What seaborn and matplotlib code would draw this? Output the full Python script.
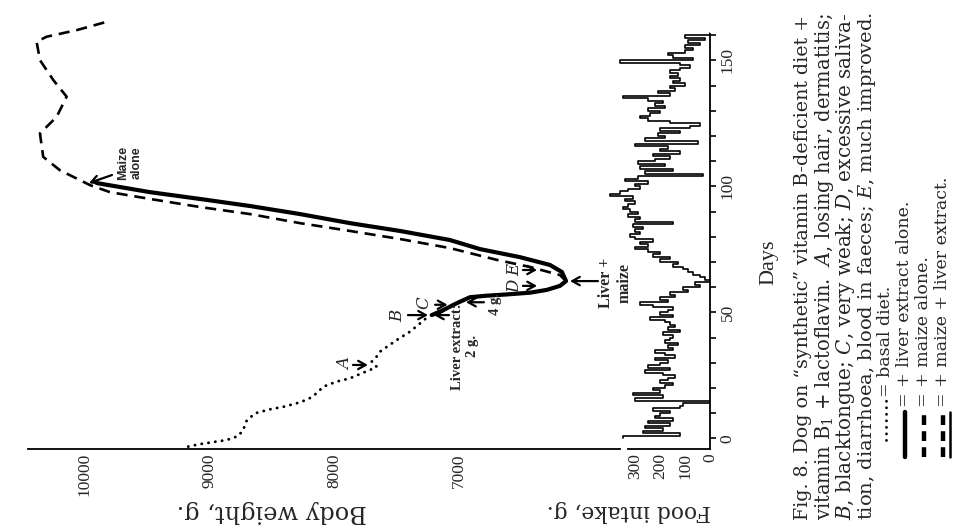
import matplotlib
matplotlib.use("Agg")
import matplotlib.pyplot as plt
import seaborn as sns
from matplotlib.lines import Line2D

# ---------------- data ----------------
basal_day = [-3.3, -2.3, -1.5, -0.7, 0.9, 3.3, 7.0, 9.9, 11.5, 12.5, 13.9, 15.5, 17.9,
             20.5, 22.5, 23.8, 25.8, 27.1, 28.4, 30.4, 33.1, 34.4, 39.0, 42.3, 45.6, 48.9]
basal_wt = [9171, 9077, 8970, 8863, 8770, 8730, 8702, 8636, 8515, 8408, 8301, 8208, 8140,
            8087, 7980, 7873, 7779, 7713, 7659, 7699, 7646, 7632, 7498, 7392, 7311, 7231]

liver_day = [48.9, 50.9, 53.6, 56.0, 56.6, 57.1, 57.8, 58.9, 60.5, 62.4, 66.0, 68.8, 71.9,
             75.1, 78.7, 82.3, 85.4, 89.0, 92.2, 95.0, 97.7, 101.3]
liver_wt = [7217, 7124, 7017, 6910, 6776, 6615, 6428, 6294, 6188, 6139, 6172, 6268, 6509,
            6830, 7071, 7472, 7873, 8274, 8676, 9077, 9478, 9904]

maize_day = [62.4, 64.8, 68.0, 70.8, 73.5, 75.5, 79.1, 82.3, 85.4, 89.0, 91.8, 95.0, 97.7,
             100.5, 106.4, 111.7, 121.0, 127.6, 135.6, 142.2, 150.1, 157.4, 159.4, 162.0,
             165.3]
maize_wt = [6139, 6188, 6428, 6693, 6910, 7071, 7472, 7873, 8274, 8676, 9077, 9478, 9799,
            9960, 10201, 10335, 10361, 10227, 10147, 10254, 10361, 10388, 10307, 10067,
            9826]

# daily food intake (g), day 0 .. 160
food_g = [350, 120, 270, 190, 260, 160, 250, 150, 220, 200,
          160, 230, 120, 110, 0, 300, 190, 310, 200, 230,
          180, 150, 200, 170, 140, 190, 260, 160, 250, 200,
          170, 220, 140, 180, 220, 150, 170, 130, 180, 160,
          150, 190, 120, 170, 140, 160, 180, 240, 150, 200,
          170, 150, 230, 280, 170, 200, 140, 160, 90, 110,
          40, 60, 0, 20, 40, 70, 90, 110, 150, 130,
          200, 160, 230, 200, 250, 300, 250, 280, 230, 300,
          320, 280, 300, 270, 310, 150, 300, 280, 330, 290,
          320, 350, 330, 300, 340, 310, 400, 360, 330, 280,
          300, 250, 340, 290, 30, 260, 150, 280, 180, 290,
          220, 160, 230, 120, 200, 170, 300, 50, 260, 180,
          210, 120, 200, 80, 40, 160, 250, 280, 240, 200,
          250, 180, 220, 190, 250, 350, 160, 210, 140, 160,
          100, 150, 120, 160, 130, 160, 120, 80, 120, 360,
          70, 150, 170, 100, 70, 100, 40, 90, 20, 100,
          0]
food_day = list(range(len(food_g) + 1))

wt_ticks = [10000, 9000, 8000, 7000]
food_ticks = [300, 200, 100, 0]
day_ticks = [0, 50, 100, 150]

caption = [
    "Fig. 8. Dog on \u201csynthetic\u201d vitamin B-deficient diet +",
    r"vitamin B$_1$ + lactoflavin.  $A$, losing hair, dermatitis;",
    r"$B$, blacktongue; $C$, very weak; $D$, excessive saliva-",
    r"tion, diarrhoea, blood in faeces; $E$, much improved.",
]
legend_txt = ["= basal diet.", "= + liver extract alone.", "= + maize alone.",
              "= + maize + liver extract."]

# ---------------- style ----------------
sns.set_theme(style="white")
plt.rcParams["font.family"] = ["Liberation Serif", "DejaVu Serif"]
plt.rcParams["mathtext.fontset"] = "custom"
plt.rcParams["mathtext.rm"] = "DejaVu Serif"
plt.rcParams["mathtext.it"] = "DejaVu Serif:italic"
plt.rcParams["mathtext.bf"] = "DejaVu Serif:bold"
plt.rcParams["axes.spines.left"] = False
plt.rcParams["axes.spines.top"] = False

W, H = 958, 531
fig = plt.figure(figsize=(W / 100, H / 100), dpi=100)
renderer = fig.canvas.get_renderer()


def box(l, t, r, b):
    return [l / W, 1 - b / H, (r - l) / W, (b - t) / H]


def fit(t, target, vertical=True):
    bb = t.get_window_extent(renderer)
    size = bb.height if vertical else bb.width
    t.set_fontsize(t.get_fontsize() * target / size)


lay = fig.add_axes([0, 0, 1, 1])
lay.set_xlim(0, W)
lay.set_ylim(H, 0)
lay.axis("off")

ax1 = fig.add_axes(box(28, 10, 620, 449))
ax2 = fig.add_axes(box(600, 10, 710, 449))
for ax in (ax1, ax2):
    ax.patch.set_visible(False)

# body weight curves
sns.lineplot(x=basal_wt, y=basal_day, sort=False, estimator=None, ax=ax1, color="black")
ln = ax1.lines[-1]
ln.set_linewidth(2.1)
ln.set_linestyle((0, (0.05, 2.3)))
ln.set_dash_capstyle("round")

sns.lineplot(x=maize_wt, y=maize_day, sort=False, estimator=None, ax=ax1, color="black")
ln = ax1.lines[-1]
ln.set_linewidth(1.9)
ln.set_linestyle((0, (4.2, 2.6)))

sns.lineplot(x=liver_wt, y=liver_day, sort=False, estimator=None, ax=ax1, color="black")
ln = ax1.lines[-1]
ln.set_linewidth(3.0)
ln.set_solid_capstyle("round")

ax1.set_xlim(10457, 5706)
ax1.set_ylim(-4.25, 170)
ax2.set_xlim(440, 0)
ax2.set_ylim(-4.25, 170)

# food intake (daily steps)
sns.lineplot(x=food_g + [food_g[-1]], y=food_day, sort=False, estimator=None, ax=ax2,
             color="black", drawstyle="steps-pre")
ax2.lines[-1].set_linewidth(1.2)

# axes styling
ax1.set_xlabel("")
ax1.set_ylabel("")
ax2.set_xlabel("")
ax2.set_ylabel("")
ax1.spines["bottom"].set_linewidth(1.3)
ax1.spines["bottom"].set_color("black")
ax1.set_xticks(wt_ticks)
ax1.set_xticklabels([str(t) for t in wt_ticks], rotation=90, fontsize=12.5)
ax1.tick_params(axis="x", direction="in", length=7, width=1.5, color="black", pad=3)
ax1.set_yticks([])
ax1.tick_params(axis="y", left=False, right=False)
ax1.yaxis.set_visible(False)

for s in ("bottom", "right"):
    ax2.spines[s].set_linewidth(1.3)
    ax2.spines[s].set_color("black")
ax2.spines["bottom"].set_bounds(0, 330)
ax2.spines["right"].set_bounds(-4.25, 160.5)
ax2.set_xticks(food_ticks)
ax2.set_xticklabels([str(t) for t in food_ticks], rotation=90, fontsize=12.5)
ax2.tick_params(axis="x", direction="in", length=5, width=1.2, color="black", pad=3)
ax2.yaxis.set_ticks_position("right")
ax2.set_yticks(day_ticks)
ax2.set_yticks(list(range(0, 161, 10)), minor=True)
ax2.set_yticklabels([str(t) for t in day_ticks], rotation=90, fontsize=12.5, va="center")
ax2.tick_params(axis="y", which="both", direction="out", length=4, width=1.2,
                color="black", pad=3, right=True, left=False)
for s in ("left", "right", "top"):
    ax1.spines[s].set_visible(False)
for s in ("left", "top"):
    ax2.spines[s].set_visible(False)

# axis titles
t = lay.text(272, 511, "Body weight, g.", rotation=180, ha="center", va="center",
             fontsize=16, family="DejaVu Serif")
fit(t, 190, vertical=False)
t = lay.text(629, 511, "Food intake, g.", rotation=180, ha="center", va="center",
             fontsize=16, family="DejaVu Serif")
fit(t, 165, vertical=False)
lay.text(769, 262, "Days", rotation=90, ha="center", va="center", fontsize=16)

# caption
for i, line in enumerate(caption):
    t = lay.text(803 + 21.5 * i, 520, line, rotation=90, ha="center", va="bottom",
                 fontsize=13, family="DejaVu Serif")
    fit(t, 506)

# legend
lx = [886, 905, 924, 943]
lay.add_artist(Line2D([lx[0], lx[0]], [440, 400], color="black", lw=2.0,
                      linestyle=(0, (0.05, 2.3)), dash_capstyle="round"))
lay.add_artist(Line2D([lx[1], lx[1]], [457, 412], color="black", lw=3.2))
lay.add_artist(Line2D([lx[2], lx[2]], [457, 412], color="black", lw=3.2,
                      linestyle=(0, (2.2, 1.4))))
lay.add_artist(Line2D([lx[3], lx[3]], [457, 412], color="black", lw=3.2,
                      linestyle=(0, (2.2, 1.4))))
lay.add_artist(Line2D([lx[3] + 7, lx[3] + 7], [457, 412], color="black", lw=1.8))
starts = [397, 407, 407, 407]
for x, y0, txt in zip(lx, starts, legend_txt):
    lay.text(x, y0, txt, rotation=90, ha="center", va="bottom", fontsize=12.5,
             family="DejaVu Serif")

# annotations
arrow = dict(arrowstyle="->,head_length=0.45,head_width=0.25", lw=1.6, color="black",
             shrinkA=0, shrinkB=0)
ax1.text(9639, 109.2, "Maize\nalone", rotation=90, ha="center", va="center",
         fontsize=9, family="Liberation Sans", fontweight="bold")
ax1.annotate("", xy=(9968, 101.3), xytext=(9783, 104.5), arrowprops=arrow)
ax1.text(5746, 61.7, "Liver +\nmaize", rotation=90, ha="center", va="center",
         fontsize=11.5, fontweight="bold", multialignment="center")
ax1.annotate("", xy=(6107, 62.4), xytext=(5883, 62.4), arrowprops=arrow)
ax1.text(6950, 36.5, "Liver extract:\n2 g.", rotation=90, ha="center", va="center",
         fontsize=10.5, fontweight="bold", multialignment="center")
ax1.annotate("", xy=(7199, 48.9), xytext=(7078, 48.9), arrowprops=arrow)
ax1.text(6709, 53.2, "4 g.", rotation=90, ha="center", va="center", fontsize=10.5,
         fontweight="bold")
ax1.annotate("", xy=(6942, 54.0), xytext=(6798, 54.0), arrowprops=arrow)
ax1.text(7913, 29.8, "$A$", rotation=90, ha="center", va="center", fontsize=12)
ax1.annotate("", xy=(7729, 29.1), xytext=(7849, 29.1), arrowprops=arrow)
ax1.text(7488, 48.9, "$B$", rotation=90, ha="center", va="center", fontsize=12)
ax1.annotate("", xy=(7247, 48.9), xytext=(7408, 48.9), arrowprops=arrow)
ax1.text(7271, 53.7, "$C$", rotation=90, ha="center", va="center", fontsize=12)
ax1.annotate("", xy=(7090, 53.0), xytext=(7190, 53.0), arrowprops=arrow)
ax1.text(6549, 60.8, "$D$", rotation=90, ha="center", va="center", fontsize=12)
ax1.annotate("", xy=(6372, 60.5), xytext=(6485, 60.5), arrowprops=arrow)
ax1.text(6549, 67.2, "$E$", rotation=90, ha="center", va="center", fontsize=12)
ax1.annotate("", xy=(6372, 66.8), xytext=(6485, 66.8), arrowprops=arrow)

fig.savefig("out.png", dpi=100)
